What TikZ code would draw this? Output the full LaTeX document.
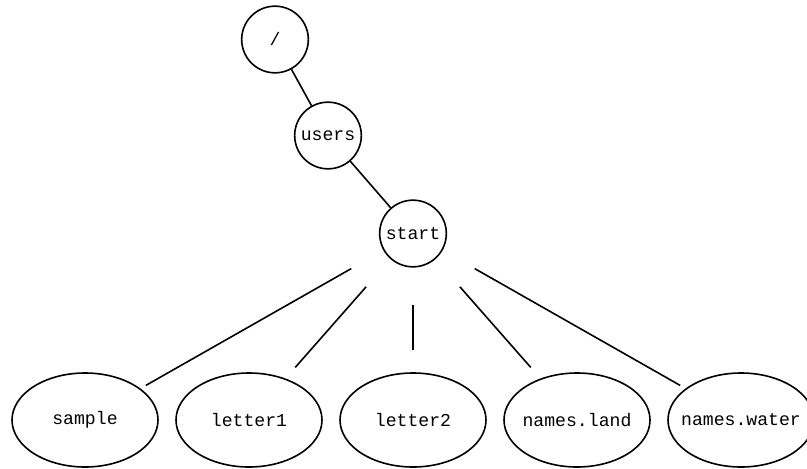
\documentclass[tikz,border=0pt]{standalone}
\usepackage{fontspec}
\setmonofont{Liberation Mono}
\usetikzlibrary{shapes.geometric,calc}
\begin{document}
\begin{tikzpicture}[x=0.75pt,y=-0.75pt,
  every node/.style={font=\ttfamily\fontsize{13.6}{16}\selectfont},
  dirnode/.style={draw, circle, line width=1.2pt, minimum size=50pt, inner sep=0pt},
  leaf/.style={draw, ellipse, line width=1.2pt, minimum width=109.5pt, minimum height=70.5pt, inner sep=0pt},
  edge/.style={line width=1.2pt}]
\clip (0,0) rectangle (807,468);
\fill[white] (0,0) rectangle (807,468);
\node[dirnode] (root) at (275,39.5) {/};
\node[dirnode] (users) at (328,135.5) {users};
\node[dirnode] (start) at (413,233.5) {start};
\node[leaf, label={center:sample}] (sample) at (85,420) {};
\node[leaf, label={center:letter1}] (letter1) at (249,420) {};
\node[leaf, label={center:letter2}] (letter2) at (413,420) {};
\node[leaf, label={center:names.land}] (land) at (577,420) {};
\node[leaf, label={center:names.water}] (water) at (741,420) {};
\draw[edge] (root) -- (users);
\draw[edge] (users) -- (start);
\foreach \c in {sample,letter1,letter2,land,water}
  \draw[edge] ($(start.center)!53.25pt!(\c.center)$) -- ($(\c.center)!52.5pt!(start.center)$);
\end{tikzpicture}
\end{document}
